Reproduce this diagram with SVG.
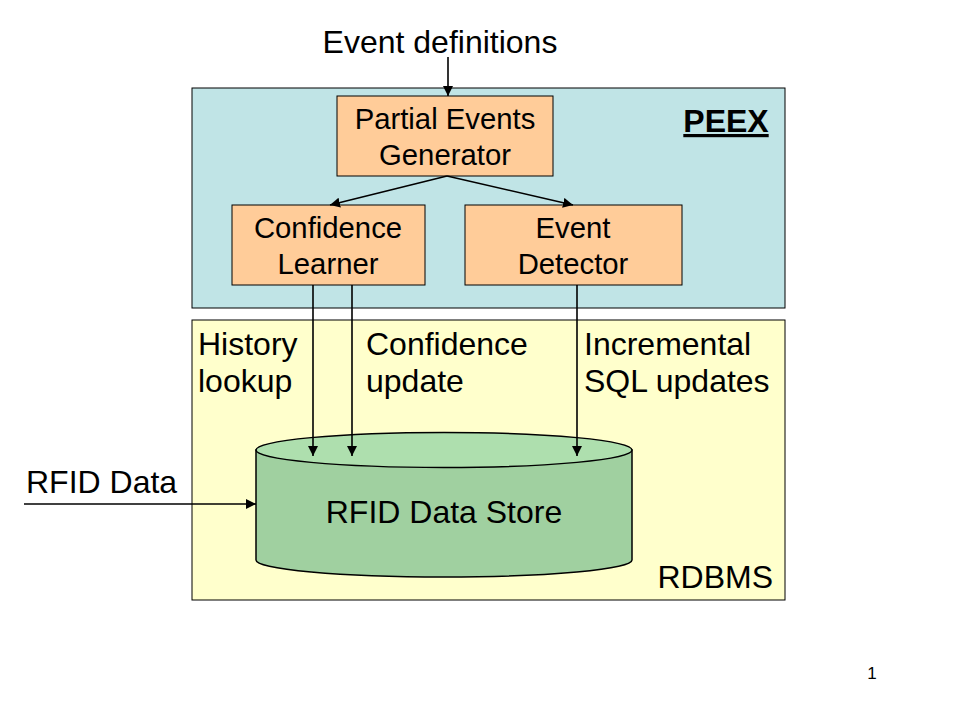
<svg xmlns="http://www.w3.org/2000/svg" width="960" height="720" viewBox="0 0 960 720">
<defs>
<marker id="ah" viewBox="0 0 10 10" refX="10" refY="5" markerWidth="10" markerHeight="10" markerUnits="userSpaceOnUse" orient="auto">
<path d="M0,0 L10,5 L0,10 z" fill="#000"/>
</marker>
<style>
text{font-family:"Liberation Sans",Arial,sans-serif;fill:#000}
.t{font-size:32px}
.b{font-size:29.3px;text-anchor:middle}
.box{fill:#FFCC99;stroke:#000;stroke-width:1}
.c{stroke:#000;stroke-width:1.6;fill:none;marker-end:url(#ah)}
</style>
</defs>
<rect width="960" height="720" fill="#fff"/>
<g id="peex">
<rect x="192" y="88" width="593" height="220" fill="#C0E4E6" stroke="#000" stroke-width="1"/>
<text x="726" y="132" class="t" font-weight="bold" text-anchor="middle" text-decoration="underline">PEEX</text>
</g>
<g id="rdbms">
<rect x="192" y="320" width="593" height="280" fill="#FFFFCC" stroke="#000" stroke-width="1"/>
<text x="773" y="588" class="t" text-anchor="end">RDBMS</text>
</g>
<g id="peg">
<rect x="337" y="96" width="216" height="80" class="box"/>
<text x="445" y="129" class="b">Partial Events</text>
<text x="445" y="165" class="b">Generator</text>
</g>
<g id="learner">
<rect x="232" y="205" width="193" height="80" class="box"/>
<text x="328" y="238" class="b">Confidence</text>
<text x="328" y="274" class="b">Learner</text>
</g>
<g id="detector">
<rect x="465" y="205" width="217" height="80" class="box"/>
<text x="573" y="238" class="b">Event</text>
<text x="573" y="274" class="b">Detector</text>
</g>
<g id="store">
<path d="M256,450 L256,560 A188,17 0 0 0 632,560 L632,450 Z" fill="#A0D0A0" stroke="#000" stroke-width="1.5"/>
<ellipse cx="444" cy="450" rx="188" ry="17.5" fill="#AEDFAE" stroke="#000" stroke-width="1.5"/>
<text x="444" y="523" class="t" text-anchor="middle">RFID Data Store</text>
</g>
<g id="labels">
<text x="440" y="53" class="t" text-anchor="middle">Event definitions</text>
<text x="198" y="355" class="t">History</text>
<text x="198" y="392" class="t">lookup</text>
<text x="366" y="355" class="t">Confidence</text>
<text x="366" y="392" class="t">update</text>
<text x="584" y="355" class="t">Incremental</text>
<text x="584" y="392" class="t">SQL updates</text>
<text x="26" y="493" class="t">RFID Data</text>
<text x="872" y="679" font-size="17" text-anchor="middle">1</text>
</g>
<g id="connectors">
<line x1="448" y1="57" x2="448" y2="96" class="c"/>
<line x1="447" y1="176" x2="330" y2="205" class="c"/>
<line x1="447" y1="176" x2="573" y2="205" class="c"/>
<line x1="313" y1="285" x2="313" y2="456" class="c"/>
<line x1="352" y1="285" x2="352" y2="456" class="c"/>
<line x1="577" y1="285" x2="577" y2="456" class="c"/>
<line x1="24" y1="504" x2="256" y2="504" class="c"/>
</g>
</svg>
